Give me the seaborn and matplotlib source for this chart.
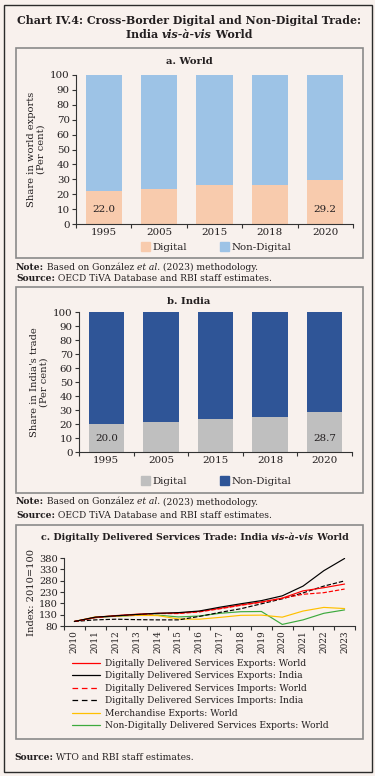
import matplotlib
matplotlib.use("Agg")
import matplotlib.pyplot as plt
import seaborn as sns
import pandas as pd
from matplotlib.patches import Rectangle, Patch
from matplotlib.lines import Line2D

# ---------------- data ----------------
bar_years = ["1995", "2005", "2015", "2018", "2020"]
world_digital = [22.0, 23.6, 26.2, 26.4, 29.2]
world_non_digital = [78.0, 76.4, 73.8, 73.6, 70.8]
india_digital = [20.0, 21.4, 23.8, 24.7, 28.7]
india_non_digital = [80.0, 78.6, 76.2, 75.3, 71.3]

line_years = [2010, 2011, 2012, 2013, 2014, 2015, 2016, 2017, 2018, 2019, 2020, 2021, 2022, 2023]
dds_exports_world = [100, 118, 126, 132, 136, 137, 144, 158, 173, 186, 203, 235, 249, 265]
dds_exports_india = [100, 119, 125, 131, 136, 139, 146, 163, 178, 192, 213, 256, 324, 378]
dds_imports_world = [100, 117, 125, 130, 135, 135, 142, 156, 171, 185, 202, 220, 227, 243]
dds_imports_india = [100, 107, 110, 108, 107, 107, 122, 140, 156, 178, 200, 226, 256, 279]
merch_exports_world = [100, 120, 124, 127, 126, 111, 110, 118, 127, 128, 119, 146, 162, 157]
non_dds_exports_world = [100, 117, 123, 127, 128, 120, 124, 136, 143, 144, 87, 107, 136, 151]

line_labels = [
    "Digitally Delivered Services Exports: World",
    "Digitally Delivered Services Exports: India",
    "Digitally Delivered Services Imports: World",
    "Digitally Delivered Services Imports: India",
    "Merchandise Exports: World",
    "Non-Digitally Delivered Services Exports: World",
]

# ---------------- style ----------------
sns.set_theme(style="white")
SERIF = ["DejaVu Serif"]
plt.rcParams["font.family"] = SERIF
BG = "#F8F1ED"
TXT = "#231F20"
SPINE = "#333333"

W, H = 375, 776
fig = plt.figure(figsize=(W / 100, H / 100), dpi=100, facecolor=BG)


def ax_at(l, t, r, b):
    ax = fig.add_axes([l / W, 1 - b / H, (r - l) / W, (b - t) / H])
    ax.set_facecolor("none")
    return ax


def box(l, t, r, b, ec="#8A8A8A", lw=1.2):
    fig.add_artist(Rectangle((l / W, 1 - b / H), (r - l) / W, (b - t) / H,
                             transform=fig.transFigure, fill=False, ec=ec, lw=lw))


renderer = fig.canvas.get_renderer()


def rich(x, y, parts, size, ha="left"):
    objs, widths = [], []
    for s, w, st in parts:
        t = fig.text(0, 0, s, fontsize=size, fontweight=w, fontstyle=st,
                     va="center", ha="left", color=TXT)
        widths.append(t.get_window_extent(renderer).width)
        objs.append(t)
    x0 = x - sum(widths) / 2 if ha == "center" else x
    for t, wd in zip(objs, widths):
        t.set_position((x0 / W, 1 - y / H))
        x0 += wd


# outer border and panel boxes
box(4, 5, 372, 772, ec="#2B2B2B", lw=1.0)
box(16, 48, 363, 258)
box(16, 287, 363, 493)
box(16, 525, 363, 739)

# title
rich(189, 20, [("Chart IV.4: Cross-Border Digital and Non-Digital Trade:", "bold", "normal")], 7.9, ha="center")
rich(189, 34, [("India ", "bold", "normal"), ("vis-à-vis", "bold", "italic"), (" World", "bold", "normal")], 7.9, ha="center")


def bar_panel(top_px, bottom_px, left_px, right_px, digital, non_digital, c_dig, c_non, ylabel):
    ax = ax_at(left_px, top_px, right_px, bottom_px)
    df = pd.DataFrame({"year": bar_years, "digital": digital, "non_digital": non_digital})
    df["total"] = df["digital"] + df["non_digital"]
    sns.barplot(data=df, x="year", y="total", color=c_non, saturation=1, width=0.65, ax=ax, linewidth=0)
    sns.barplot(data=df, x="year", y="digital", color=c_dig, saturation=1, width=0.65, ax=ax, linewidth=0)
    ax.set_ylim(0, 100)
    ax.set_xlim(-0.5, 4.5)
    ax.set_yticks(range(0, 101, 10))
    ax.tick_params(axis="y", length=3, width=0.8, color=SPINE, labelsize=7.4, pad=1.5, labelcolor=TXT, left=True)
    ax.set_xticks(range(5))
    ax.set_xticklabels(bar_years)
    ax.set_xticks([i - 0.5 for i in range(6)], minor=True)
    ax.tick_params(axis="x", which="major", length=0, labelsize=7.4, pad=3, labelcolor=TXT)
    ax.tick_params(axis="x", which="minor", length=3, width=0.8, color=SPINE, bottom=True)
    for s in ["top", "right"]:
        ax.spines[s].set_visible(False)
    for s in ["left", "bottom"]:
        ax.spines[s].set_color(SPINE)
        ax.spines[s].set_linewidth(0.8)
    ax.set_xlabel("")
    ax.set_ylabel(ylabel, fontsize=7.1, color=TXT, labelpad=3, linespacing=1.1)
    for i in (0, 4):
        ax.text(i, 10, f"{digital[i]:.1f}", ha="center", va="center", fontsize=7.4, color=TXT)
    handles = [Patch(color=c_dig, label="Digital"), Patch(color=c_non, label="Non-Digital")]
    return ax, handles


# panel a
rich(189, 62, [("a. World", "bold", "normal")], 7.2, ha="center")
ax_a, h_a = bar_panel(75, 224, 76, 353, world_digital, world_non_digital, "#F8CBAD", "#9DC3E6",
                      "Share in world exports\n(Per cent)")
fig.legend(handles=h_a, loc="center", bbox_to_anchor=(216 / W, 1 - 247 / H), ncol=2, frameon=False,
           fontsize=7.4, handlelength=0.9, handleheight=0.9, handletextpad=0.25, columnspacing=3.2,
           labelcolor=TXT)
rich(16, 267, [("Note:", "bold", "normal"), (" Based on González ", "normal", "normal"),
               ("et al.", "normal", "italic"), (" (2023) methodology.", "normal", "normal")], 6.6)
rich(16, 278, [("Source:", "bold", "normal"), (" OECD TiVA Database and RBI staff estimates.", "normal", "normal")], 6.6)

# panel b
rich(189, 302, [("b. India", "bold", "normal")], 7.2, ha="center")
ax_b, h_b = bar_panel(312, 452, 79, 352, india_digital, india_non_digital, "#BFBFBF", "#2F5597",
                      "Share in India's trade\n(Per cent)")
fig.legend(handles=h_b, loc="center", bbox_to_anchor=(216 / W, 1 - 481 / H), ncol=2, frameon=False,
           fontsize=7.4, handlelength=0.9, handleheight=0.9, handletextpad=0.25, columnspacing=3.2,
           labelcolor=TXT)
rich(16, 502, [("Note:", "bold", "normal"), (" Based on González ", "normal", "normal"),
               ("et al.", "normal", "italic"), (" (2023) methodology.", "normal", "normal")], 6.6)
rich(16, 515, [("Source:", "bold", "normal"), (" OECD TiVA Database and RBI staff estimates.", "normal", "normal")], 6.6)

# panel c
rich(195, 538, [("c. Digitally Delivered Services Trade: India ", "bold", "normal"),
                ("vis-à-vis", "bold", "italic"), (" World", "bold", "normal")], 6.8, ha="center")
ax_c = ax_at(64, 558, 355, 626)
series = [dds_exports_world, dds_exports_india, dds_imports_world, dds_imports_india,
          merch_exports_world, non_dds_exports_world]
colors = ["#FF0000", "#000000", "#FF0000", "#000000", "#FFC000", "#3DAA3D"]
styles = ["-", "-", "--", "--", "-", "-"]
for idx in [5, 4, 3, 2, 0, 1]:
    df = pd.DataFrame({"year": line_years, "value": series[idx]})
    sns.lineplot(data=df, x="year", y="value", color=colors[idx], linestyle=styles[idx],
                 linewidth=0.85, ax=ax_c, legend=False,
                 **({"dashes": (4.5, 3)} if styles[idx] == "--" else {}))
ax_c.set_xlim(2009.5, 2023.5)
ax_c.set_ylim(80, 380)
ax_c.set_yticks(range(80, 381, 50))
ax_c.tick_params(axis="y", length=3, width=0.8, color=SPINE, labelsize=7.1, pad=1.5, labelcolor=TXT, left=True)
ax_c.set_xticks(line_years)
ax_c.set_xticklabels([str(y) for y in line_years], rotation=90)
ax_c.set_xticks([y - 0.5 for y in line_years] + [2023.5], minor=True)
ax_c.tick_params(axis="x", which="major", length=0, labelsize=6.4, pad=3, labelcolor=TXT)
ax_c.tick_params(axis="x", which="minor", length=3, width=0.8, color=SPINE, bottom=True)
for s in ["top", "right"]:
    ax_c.spines[s].set_visible(False)
for s in ["left", "bottom"]:
    ax_c.spines[s].set_color(SPINE)
    ax_c.spines[s].set_linewidth(0.8)
ax_c.set_xlabel("")
ax_c.set_ylabel("Index: 2010=100", fontsize=7.1, color=TXT, labelpad=2)

handles = []
for i in range(6):
    kw = {"dashes": (4.5, 3)} if styles[i] == "--" else {}
    handles.append(Line2D([0], [0], color=colors[i], lw=0.9, linestyle=styles[i], **kw))
fig.legend(handles=handles, labels=line_labels, loc="upper left",
           bbox_to_anchor=(72 / W, 1 - 659 / H), ncol=1, frameon=False, fontsize=6.6,
           handlelength=3.1, handletextpad=0.45, labelspacing=0.38, labelcolor=TXT,
           borderaxespad=0, borderpad=0)

rich(14, 757, [("Source:", "bold", "normal"), (" WTO and RBI staff estimates.", "normal", "normal")], 6.6)

fig.savefig("out.png", dpi=100, facecolor=BG)
